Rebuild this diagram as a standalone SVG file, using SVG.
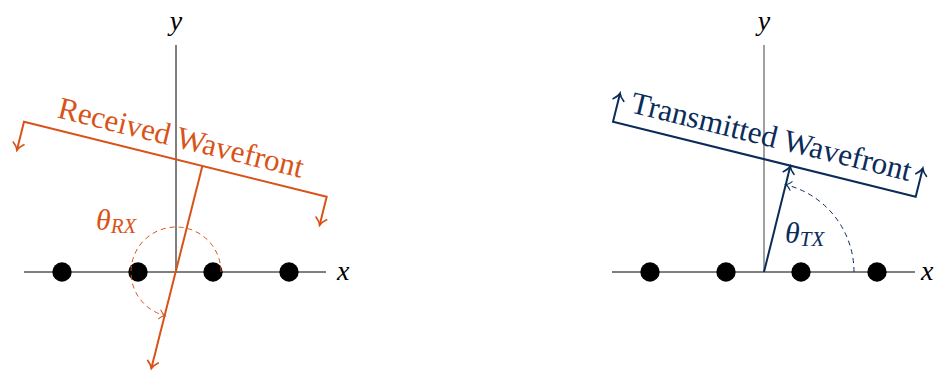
<svg xmlns="http://www.w3.org/2000/svg" width="934" height="372" viewBox="0 0 934 372">
<defs>
<style>
.ax{stroke:#000;stroke-width:1;fill:none}
.axg{stroke:#777;stroke-width:1.4;fill:none}
.dot{fill:#000}
.or{stroke:#D95319;stroke-width:2;fill:none}
.nv{stroke:#0B2C5A;stroke-width:2;fill:none}
.ord{stroke:#D95319;stroke-width:1;fill:none;stroke-dasharray:5 4}
.nvd{stroke:#0B2C5A;stroke-width:1;fill:none;stroke-dasharray:5 4}
.math{font-family:"Liberation Serif","DejaVu Serif",serif;font-style:italic}
.lbl{font-family:"Liberation Serif","DejaVu Serif",serif;font-size:31px}
</style>
<marker id="aO" viewBox="-9 -7 11 14" markerWidth="11" markerHeight="14" refX="0" refY="0" orient="auto-start-reverse" markerUnits="userSpaceOnUse">
<path d="M-7,-5.5 C-4.5,-2.4 -1.8,-0.6 0,0 C-1.8,0.6 -4.5,2.4 -7,5.5" fill="none" stroke="#D95319" stroke-width="1.7" stroke-linecap="round"/>
</marker>
<marker id="aOs" viewBox="-8 -6 10 12" markerWidth="10" markerHeight="12" refX="0" refY="0" orient="auto" markerUnits="userSpaceOnUse">
<path d="M-5.5,-4.5 C-3.8,-2 -1.4,-0.4 0,0 C-1.4,0.4 -3.8,2 -5.5,4.5" fill="none" stroke="#D95319" stroke-width="1" stroke-linecap="round"/>
</marker>
<marker id="aN" viewBox="-9 -7 11 14" markerWidth="11" markerHeight="14" refX="0" refY="0" orient="auto-start-reverse" markerUnits="userSpaceOnUse">
<path d="M-7,-5.5 C-4.5,-2.4 -1.8,-0.6 0,0 C-1.8,0.6 -4.5,2.4 -7,5.5" fill="none" stroke="#0B2C5A" stroke-width="1.7" stroke-linecap="round"/>
</marker>
<marker id="aNs" viewBox="-8 -6 10 12" markerWidth="10" markerHeight="12" refX="0" refY="0" orient="auto" markerUnits="userSpaceOnUse">
<path d="M-5.5,-4.5 C-3.8,-2 -1.4,-0.4 0,0 C-1.4,0.4 -3.8,2 -5.5,4.5" fill="none" stroke="#0B2C5A" stroke-width="1" stroke-linecap="round"/>
</marker>
</defs>

<!-- LEFT: receive -->
<g id="rx-axes">
<line class="ax" x1="24" y1="272" x2="326" y2="272"/>
<line class="ax" x1="176" y1="45" x2="176" y2="272"/>
<text class="math" x="176" y="30" font-size="28" text-anchor="middle">y</text>
<text class="math" x="337" y="280" font-size="28">x</text>
</g>
<g id="rx-array">
<circle class="dot" cx="62" cy="272" r="9.7"/>
<circle class="dot" cx="138" cy="272" r="9.7"/>
<circle class="dot" cx="213" cy="272" r="9.7"/>
<circle class="dot" cx="289" cy="272" r="9.7"/>
</g>
<g id="rx-connectors">
<path class="or" d="M16.9,150.2 L24,121.7 L326.7,196.7 L319.6,225.2" marker-start="url(#aO)" marker-end="url(#aO)"/>
<path class="or" d="M202.3,166.2 L151.3,368.5" marker-end="url(#aO)"/>
<path class="ord" d="M221,272 A45,45 0 1 0 165.1,315.7" marker-end="url(#aOs)"/>
</g>
<g id="rx-labels">
<text class="lbl" fill="#D95319" x="178.5" y="147.6" text-anchor="middle" textLength="252" lengthAdjust="spacingAndGlyphs" transform="rotate(13.9 178.5 147.6)">Received Wavefront</text>
<text class="math" fill="#D95319" x="96" y="230" font-size="30">θ<tspan font-size="21" dy="3">RX</tspan></text>
</g>

<!-- RIGHT: transmit -->
<g id="tx-axes">
<line class="ax" x1="612" y1="272" x2="915" y2="272"/>
<line class="axg" x1="764" y1="45" x2="764" y2="272"/>
<text class="math" x="764" y="30" font-size="28" text-anchor="middle">y</text>
<text class="math" x="921" y="280" font-size="28">x</text>
</g>
<g id="tx-array">
<circle class="dot" cx="650" cy="272" r="9.7"/>
<circle class="dot" cx="726" cy="272" r="9.7"/>
<circle class="dot" cx="801" cy="272" r="9.7"/>
<circle class="dot" cx="877" cy="272" r="9.7"/>
</g>
<g id="tx-connectors">
<path class="nv" d="M620.1,93.2 L613,121.7 L915.7,196.7 L922.8,168.2" marker-start="url(#aN)" marker-end="url(#aN)"/>
<path class="nv" d="M764,272 L790.3,166.2" marker-end="url(#aN)"/>
<path class="nvd" d="M854,272 A90,90 0 0 0 785.8,184.7" marker-end="url(#aNs)"/>
</g>
<g id="tx-labels">
<text class="lbl" fill="#0B2C5A" x="769" y="146.5" text-anchor="middle" textLength="288" lengthAdjust="spacingAndGlyphs" transform="rotate(13.9 769 146.5)">Transmitted Wavefront</text>
<text class="math" fill="#0B2C5A" x="785" y="243" font-size="30">θ<tspan font-size="21" dy="3">TX</tspan></text>
</g>
</svg>
